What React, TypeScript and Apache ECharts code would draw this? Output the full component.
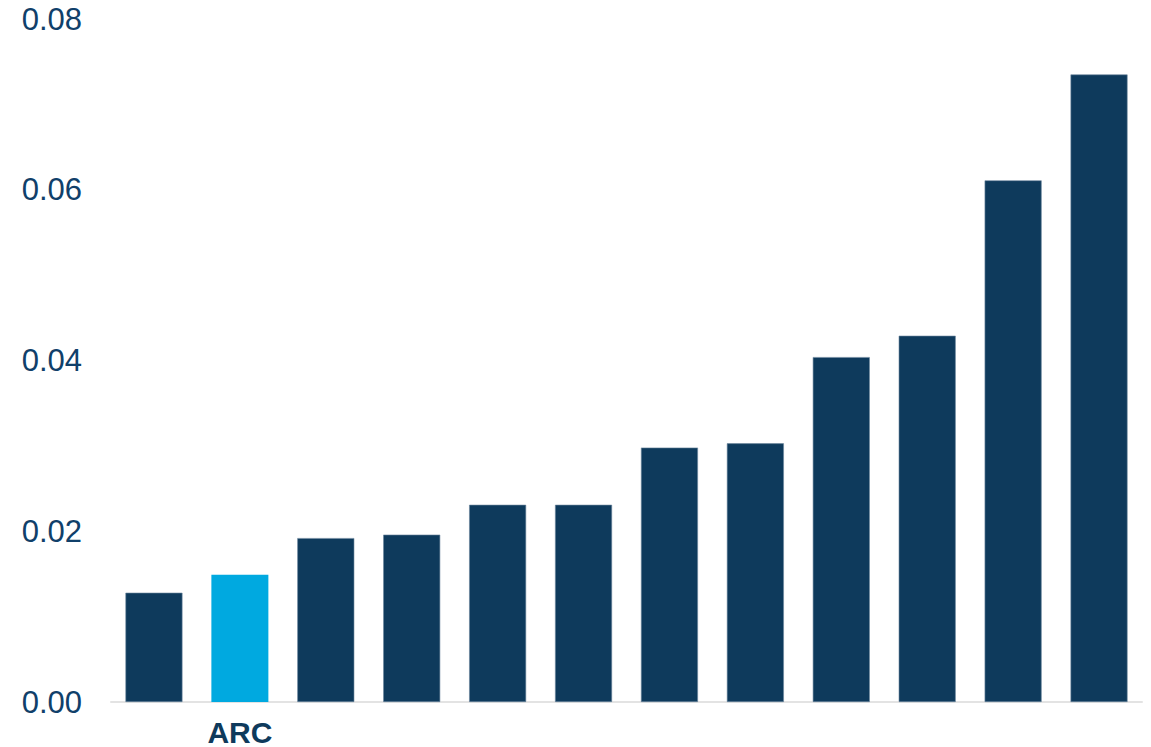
import React, { useEffect, useRef } from "react";
import * as echarts from "echarts";

const categories = ["", "ARC", "", "", "", "", "", "", "", "", "", ""];
const values = [0.0128, 0.0149, 0.0192, 0.0196, 0.0231, 0.0231, 0.0298, 0.0303, 0.0404, 0.0429, 0.0611, 0.0735];
const highlightIndex = 1;
const yTicks = { min: 0, max: 0.08, interval: 0.02 };

const NAVY = "#0e3a5c";
const CYAN = "#00a9e0";

export default function App() {
  const ref = useRef<HTMLDivElement>(null);
  useEffect(() => {
    if (!ref.current) return;
    const chart = echarts.init(ref.current, undefined, { renderer: "svg" });
    chart.setOption({
      animation: false,
      grid: { left: 111, right: 9, top: 19, bottom: 45, containLabel: false },
      xAxis: {
        type: "category",
        data: categories,
        axisLine: { show: true, lineStyle: { color: "#e3e3e3", width: 2 } },
        axisTick: { show: false },
        axisLabel: {
          interval: 0,
          color: NAVY,
          fontFamily: "Liberation Sans",
          fontSize: 30,
          fontWeight: "bold",
          margin: 15,
        },
      },
      yAxis: {
        type: "value",
        min: yTicks.min,
        max: yTicks.max,
        interval: yTicks.interval,
        splitLine: { show: false },
        axisLine: { show: false },
        axisTick: { show: false },
        axisLabel: {
          color: "#10406a",
          fontFamily: "Liberation Sans",
          fontSize: 31,
          margin: 29,
          formatter: (v: number) => v.toFixed(2),
        },
      },
      series: [
        {
          type: "bar",
          barWidth: 57,
          data: values.map((v, i) => ({
            value: v,
            itemStyle: {
              color: i === highlightIndex ? CYAN : NAVY,
              borderColor: i === highlightIndex ? CYAN : "#6b879e",
              borderWidth: i === highlightIndex ? 0 : 0.6,
            },
          })),
        },
      ],
    });
    return () => chart.dispose();
  }, []);
  return (
    <div
      ref={ref}
      style={{ position: "absolute", left: 0, top: 0, width: 1151, height: 747, background: "#fff" }}
    />
  );
}
